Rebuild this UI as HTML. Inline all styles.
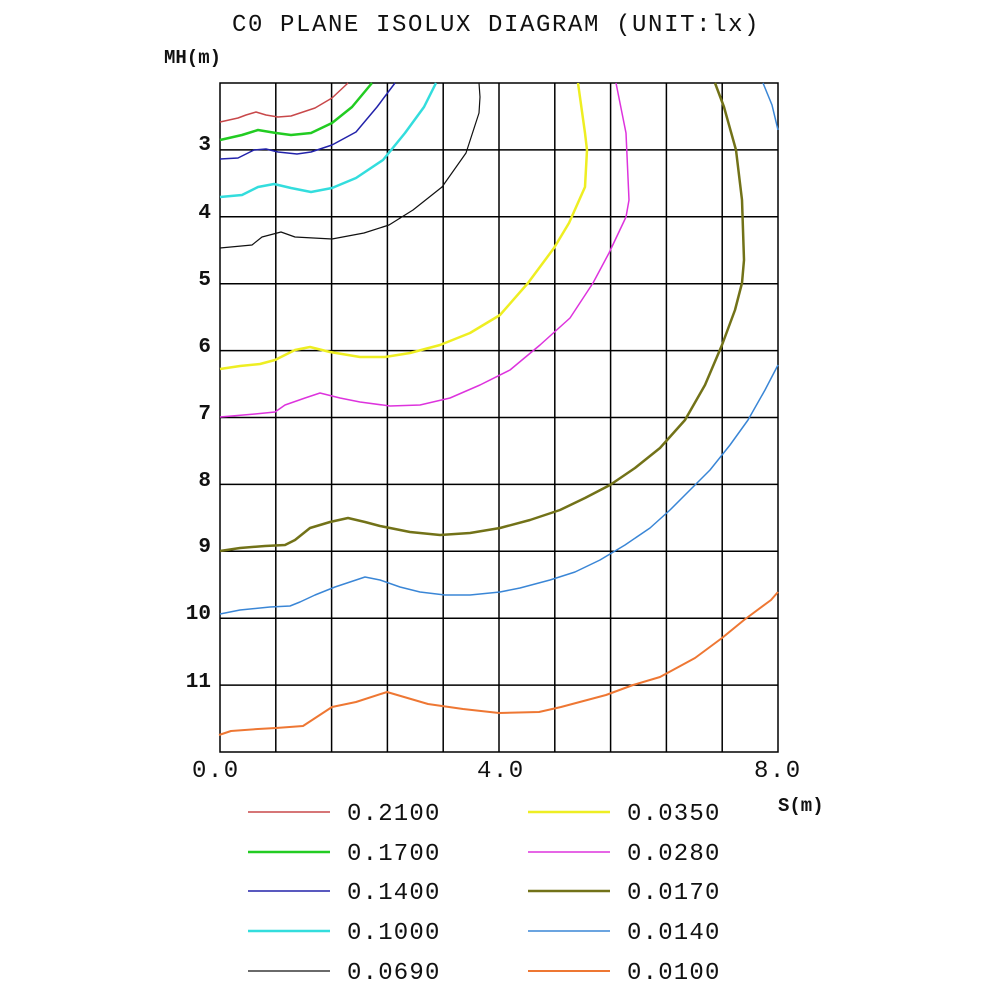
<!DOCTYPE html>
<html><head><meta charset="utf-8"><style>
html,body{margin:0;padding:0;background:#fff;}
svg{display:block;}
text{font-family:"Liberation Mono",monospace;fill:#111;}
</style></head><body>
<svg width="1000" height="1000" viewBox="0 0 1000 1000" xmlns="http://www.w3.org/2000/svg">
<rect width="1000" height="1000" fill="#fff"/>
<text x="232" y="31" font-size="24" style="letter-spacing:1.6px">C0 PLANE ISOLUX DIAGRAM (UNIT:lx)</text>
<text x="164" y="63" font-size="19" font-weight="bold">MH(m)</text>
<g stroke="#000" stroke-width="1.5" fill="none">
<rect x="220" y="83" width="558" height="669"/>
<path d="M275.8 83V752M331.6 83V752M387.4 83V752M443.2 83V752M499 83V752M554.8 83V752M610.6 83V752M666.4 83V752M722.2 83V752"/>
<path d="M220 149.9H778M220 216.8H778M220 283.7H778M220 350.6H778M220 417.5H778M220 484.4H778M220 551.3H778M220 618.2H778M220 685.1H778"/>
</g>
<g font-size="21" font-weight="bold" text-anchor="end" style="font-family:'Liberation Sans',sans-serif">
<text x="211" y="150">3</text><text x="211" y="218">4</text><text x="211" y="285">5</text><text x="211" y="352">6</text><text x="211" y="419">7</text><text x="211" y="486">8</text><text x="211" y="552">9</text><text x="211" y="619">10</text><text x="211" y="687">11</text>
</g>
<g font-size="24" style="letter-spacing:1.5px">
<text x="192" y="777">0.0</text><text x="477" y="777">4.0</text><text x="754" y="777">8.0</text>
</g>
<text x="778" y="811" font-size="19" font-weight="bold">S(m)</text>
<g fill="none" stroke-linejoin="round">
<polyline stroke="#c8484a" stroke-width="1.5" points="220,122 238,118 246,115 256,112 266,115 278,117 291,116 315,108 332,98 348,83"/>
<polyline stroke="#22cc22" stroke-width="2.5" points="220,140 242,135 258,130 276,133 291,135 311,133 332,123 352,107 372,83"/>
<polyline stroke="#2222aa" stroke-width="1.5" points="220,159 238,158 254,150 266,149 278,152 297,154 311,152 332,145 356,132 377,107 395,83"/>
<polyline stroke="#33dddd" stroke-width="2.5" points="220,197 242,195 258,187 274,184 291,188 311,192 332,188 356,178 383,160 405,133 424,107 436,83"/>
<polyline stroke="#111" stroke-width="1.2" points="220,248 252,245 262,237 281,232 295,237 332,239 364,233 389,225 413,210 442,187 466,153 479,113 480,97 479,83"/>
<polyline stroke="#eeee22" stroke-width="2.5" points="578,83 585,133 587,150 585,187 569,223 554,248 528,283 500,315 470,333 440,345 410,353 385,357 360,357 330,352 310,347 295,350 275,360 260,364 240,366 220,369"/>
<polyline stroke="#dd33dd" stroke-width="1.5" points="616,83 626,133 629,200 626,217 609,253 593,283 570,318 540,345 510,370 480,385 450,398 420,405 390,406 360,402 340,398 320,393 305,398 285,405 275,412 255,414 220,417"/>
<polyline stroke="#727218" stroke-width="2.5" points="715,83 724,107 736,150 742,200 744,260 742,283 735,310 722,345 705,385 685,420 660,448 635,468 610,485 585,498 560,510 530,520 500,528 470,533 440,535 410,532 380,526 365,522 348,518 330,522 310,528 295,540 285,545 265,546 240,548 220,551"/>
<polyline stroke="#3a86d6" stroke-width="1.5" points="763,83 772,105 778,130"/>
<polyline stroke="#3a86d6" stroke-width="1.5" points="778,365 765,390 748,420 730,445 710,470 690,490 670,510 650,528 625,545 600,560 575,572 550,580 520,588 500,592 470,595 445,595 420,592 400,587 380,580 365,577 350,582 335,587 315,595 300,602 290,606 270,607 240,610 220,614"/>
<polyline stroke="#ee7733" stroke-width="2" points="219,735 231,731 258,729 276,728 303,726 332,707 356,702 387,692 428,704 463,709 499,713 539,712 561,707 606,695 633,685 660,677 695,658 722,638 744,620 771,600 778,592"/>
</g>
<g>
<line x1="248" y1="812" x2="330" y2="812" stroke="#c8484a" stroke-width="1.5"/>
<line x1="248" y1="852" x2="330" y2="852" stroke="#22cc22" stroke-width="2.5"/>
<line x1="248" y1="891" x2="330" y2="891" stroke="#2222aa" stroke-width="1.5"/>
<line x1="248" y1="931" x2="330" y2="931" stroke="#33dddd" stroke-width="2.5"/>
<line x1="248" y1="971" x2="330" y2="971" stroke="#111" stroke-width="1.2"/>
<line x1="528" y1="812" x2="610" y2="812" stroke="#eeee22" stroke-width="2.5"/>
<line x1="528" y1="852" x2="610" y2="852" stroke="#dd33dd" stroke-width="1.5"/>
<line x1="528" y1="891" x2="610" y2="891" stroke="#727218" stroke-width="2.5"/>
<line x1="528" y1="931" x2="610" y2="931" stroke="#3a86d6" stroke-width="1.5"/>
<line x1="528" y1="971" x2="610" y2="971" stroke="#ee7733" stroke-width="2"/>
</g>
<g font-size="24" style="letter-spacing:1.2px">
<text x="347" y="820">0.2100</text><text x="347" y="860">0.1700</text><text x="347" y="899">0.1400</text><text x="347" y="939">0.1000</text><text x="347" y="979">0.0690</text>
<text x="627" y="820">0.0350</text><text x="627" y="860">0.0280</text><text x="627" y="899">0.0170</text><text x="627" y="939">0.0140</text><text x="627" y="979">0.0100</text>
</g>
</svg>
</body></html>
